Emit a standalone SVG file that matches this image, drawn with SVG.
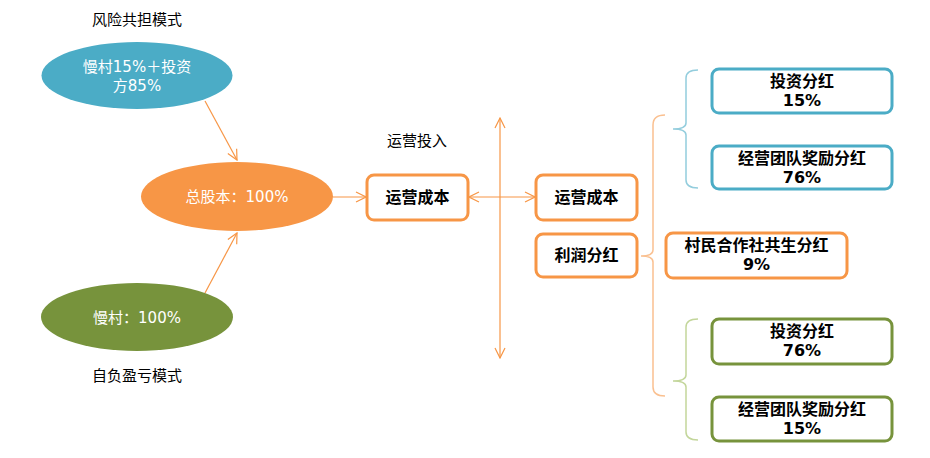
<svg xmlns="http://www.w3.org/2000/svg" width="930" height="458" viewBox="0 0 930 458">
<defs>
<style>
text{font-family:"DejaVu Sans","Noto Sans CJK SC",sans-serif;text-anchor:middle}
.lbl{font-size:15px;fill:#000}
.el{font-size:15px;fill:#fff}
.bx{font-size:16px;font-weight:bold;fill:#000}
.box{fill:#fff;stroke-width:3}
.or{stroke:#F79646}
.bl{stroke:#4BACC6}
.gr{stroke:#77933C}
.cn{fill:none;stroke:#F79646;stroke-width:1.2}
.br{fill:none;stroke-width:1.5}
</style>
<marker id="ah" viewBox="0 0 12 12" refX="11" refY="6" markerWidth="12" markerHeight="12" markerUnits="userSpaceOnUse" orient="auto-start-reverse">
<path d="M1,1 L11,6 L1,11" fill="none" stroke="#F79646" stroke-width="1.2"/>
</marker>
</defs>
<rect width="930" height="458" fill="#fff"/>
<text class="lbl" x="137" y="25">风险共担模式</text>
<text class="lbl" x="137" y="381">自负盈亏模式</text>
<text class="lbl" x="417" y="146">运营投入</text>
<g id="connectors">
<line class="cn" x1="205" y1="101" x2="237" y2="160" marker-end="url(#ah)"/>
<line class="cn" x1="205" y1="293" x2="237" y2="233" marker-end="url(#ah)"/>
<line class="cn" x1="333" y1="197" x2="366" y2="197" marker-end="url(#ah)"/>
<line class="cn" x1="469" y1="197" x2="535" y2="197" marker-start="url(#ah)" marker-end="url(#ah)"/>
<line class="cn" x1="500" y1="118" x2="500" y2="358" marker-start="url(#ah)" marker-end="url(#ah)"/>
<path class="br" stroke="#FAC090" d="M665,115 Q653,115 653,125 L653,250 Q653,256 641,256 Q653,256 653,262 L653,387 Q653,396 665,396"/>
<path class="br" stroke="#93CDDD" d="M698,70 Q686,70 686,78 L686,123 Q686,129 673,129 Q686,129 686,135 L686,180 Q686,188 698,188"/>
<path class="br" stroke="#C3D69B" d="M698,319 Q686,319 686,327 L686,375 Q686,381 673,381 Q686,381 686,387 L686,432 Q686,440 698,440"/>
</g>
<g id="n_risk">
<ellipse cx="137" cy="75.5" rx="95.5" ry="33.5" fill="#4BACC6"/>
<text class="el" x="137" y="72">慢村15%＋投资</text>
<text class="el" x="137" y="91">方85%</text>
</g>
<g id="n_total">
<ellipse cx="237" cy="196.5" rx="96" ry="34.5" fill="#F79646"/>
<text class="el" x="237" y="202">总股本：100%</text>
</g>
<g id="n_self">
<ellipse cx="137" cy="317" rx="96" ry="34" fill="#77933C"/>
<text class="el" x="137" y="323">慢村：100%</text>
</g>
<g id="n_cost1">
<rect class="box or" x="367" y="175" width="101" height="45" rx="7"/>
<text class="bx" x="417.5" y="203">运营成本</text>
</g>
<g id="n_cost2">
<rect class="box or" x="536" y="175" width="101" height="45" rx="7"/>
<text class="bx" x="586.5" y="203">运营成本</text>
</g>
<g id="n_profit">
<rect class="box or" x="536" y="234" width="101" height="43" rx="7"/>
<text class="bx" x="586.5" y="261">利润分红</text>
</g>
<g id="n_village">
<rect class="box or" x="666" y="233" width="181" height="45" rx="7"/>
<text class="bx" x="756.5" y="251">村民合作社共生分红</text>
<text class="bx" x="756.5" y="270">9%</text>
</g>
<g id="n_b1">
<rect class="box bl" x="712" y="69" width="180" height="44" rx="7"/>
<text class="bx" x="802" y="87">投资分红</text>
<text class="bx" x="802" y="106">15%</text>
</g>
<g id="n_b2">
<rect class="box bl" x="712" y="146" width="180" height="43" rx="7"/>
<text class="bx" x="802" y="164">经营团队奖励分红</text>
<text class="bx" x="802" y="183">76%</text>
</g>
<g id="n_g1">
<rect class="box gr" x="712" y="319" width="180" height="45" rx="7"/>
<text class="bx" x="802" y="337">投资分红</text>
<text class="bx" x="802" y="356">76%</text>
</g>
<g id="n_g2">
<rect class="box gr" x="712" y="397" width="180" height="44" rx="7"/>
<text class="bx" x="802" y="415">经营团队奖励分红</text>
<text class="bx" x="802" y="434">15%</text>
</g>
</svg>
